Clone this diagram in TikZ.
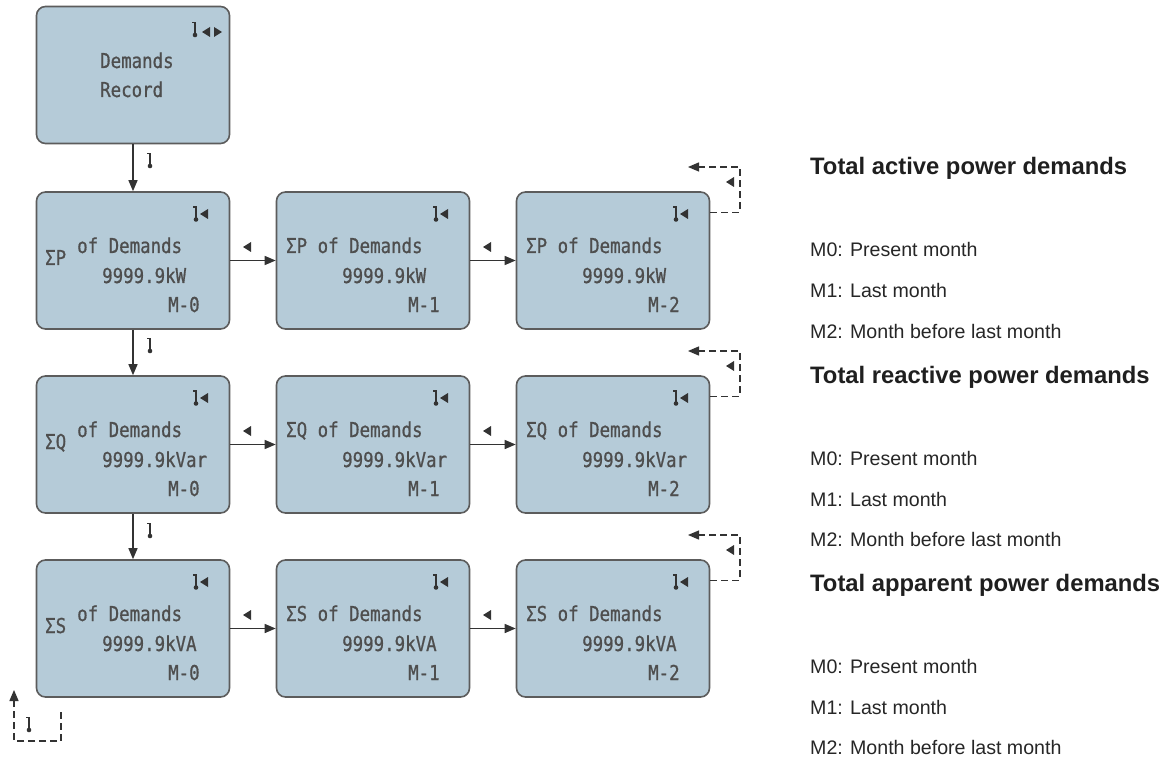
\documentclass[tikz,border=0pt]{standalone}
\usepackage{fontspec}
\setmainfont{Liberation Sans}
\newfontfamily\lcdfont[FakeStretch=0.85,FakeBold=0.8]{DejaVu Sans Mono}
\usetikzlibrary{arrows.meta,calc}

\definecolor{panelfill}{HTML}{B5CBD8}
\definecolor{panelrim}{HTML}{5C5C5C}
\definecolor{lcdink}{HTML}{4E4E4E}
\definecolor{wire}{HTML}{333333}

\tikzset{
  panel/.style={draw=panelrim, line width=1.6pt, fill=panelfill, rounded corners=9pt,
                minimum width=193pt, minimum height=137pt, inner sep=0pt},
  lcd/.style={font=\lcdfont\fontsize{20.5}{22}\selectfont, text=lcdink, inner sep=0pt, anchor=base west},
  flow/.style={draw=wire, line width=1.4pt, -{Triangle[length=11pt,width=9pt]}},
  backloop/.style={draw=wire, line width=1.3pt, dash pattern=on 7pt off 4pt,
                   -{Triangle[length=11pt,width=9pt]}},
  heading/.style={font=\bfseries\fontsize{23.8}{26}\selectfont, anchor=base west, inner sep=0pt, text=black!88},
  note/.style={font=\fontsize{19.6}{21}\selectfont, anchor=base west, inner sep=0pt, text=black!85},
  pics/dn/.style={code={
    \draw[wire, line width=1.6pt] (-2.8,-7.5) -- (0,-7.5) -- (0,4.5);
    \fill[wire] (0,5) circle (2.3pt);}},
  pics/lt/.style={code={\fill[wire] (-4,0) -- (4,-5) -- (4,5) -- cycle;}},
  pics/rt/.style={code={\fill[wire] (4,0) -- (-4,-5) -- (-4,5) -- cycle;}},
}

\begin{document}
\begin{tikzpicture}[x=1pt, y=-1pt]
\useasboundingbox (0,0) rectangle (1173,762);

% entry screen
\node[panel] (rec) at (133,75) {};
\node[lcd] (recA) at (100,68) {Demands};
\node[lcd] (recB) at (100,97) {Record};
\pic at (195,30) {dn};
\pic at (206,32) {lt};
\pic at (218,32) {rt};

% grid of demand screens
\foreach \r/\sym/\unit/\ty in {1/P/kW/192, 2/Q/kVar/376, 3/S/kVA/560}{
  \foreach \c/\lx in {0/37, 1/277, 2/517}{
    \node[panel] (b\r\c) at (\lx+96, \ty+68.5) {};
    \pic at (\lx+159, \ty+22.5) {dn};
    \pic at (\lx+167, \ty+22) {lt};
    \ifnum\c=0
      \node[lcd] (sg\r\c) at (\lx+8, \ty+73) {Σ\sym};
      \node[lcd] (od\r\c) at (\lx+40, \ty+61) {of Demands};
    \else
      \node[lcd] (od\r\c) at (\lx+9, \ty+61) {Σ\sym\ of Demands};
    \fi
    \node[lcd] (va\r\c) at (\lx+65, \ty+91) {9999.9\unit};
    \node[lcd] (mo\r\c) at (\lx+131, \ty+120) {M-\c};
  }
  % links to the next month
  \draw[flow] (b\r0) -- (b\r1);
  \draw[flow] (b\r1) -- (b\r2);
  \pic at (247, \ty+55) {lt};
  \pic at (487, \ty+55) {lt};
  % return from the last month
  \coordinate (ret\r) at (688, \ty-25);
  \draw[backloop] ($(b\r2.north east)+(0,21)$) -| (740, \ty-25) -- (ret\r);
  \pic at (730, \ty-10) {lt};
}

% downward links
\draw[flow] (rec) -- (b10);
\draw[flow] (b10) -- (b20);
\draw[flow] (b20) -- (b30);
\pic at (150,161) {dn};
\pic at (150,346) {dn};
\pic at (150,531) {dn};

% return to the entry screen
\coordinate (tailend) at (61,712);
\coordinate (backup) at (14,690);
\draw[backloop] (tailend) -- (61,741) -- (14,741) -- (backup);
\pic at (29,725) {dn};

% legend
\foreach \y/\kind in {175/active, 383/reactive, 591/apparent}{
  \node[heading] (h\kind) at (810,\y) {Total \kind\ power demands};
  \node[note] (m0\kind) at (810,\y+82) {M0: Present month};
  \node[note] (m1\kind) at (810,\y+123) {M1: Last month};
  \node[note] (m2\kind) at (810,\y+163) {M2: Month before last month};
}
\end{tikzpicture}
\end{document}
